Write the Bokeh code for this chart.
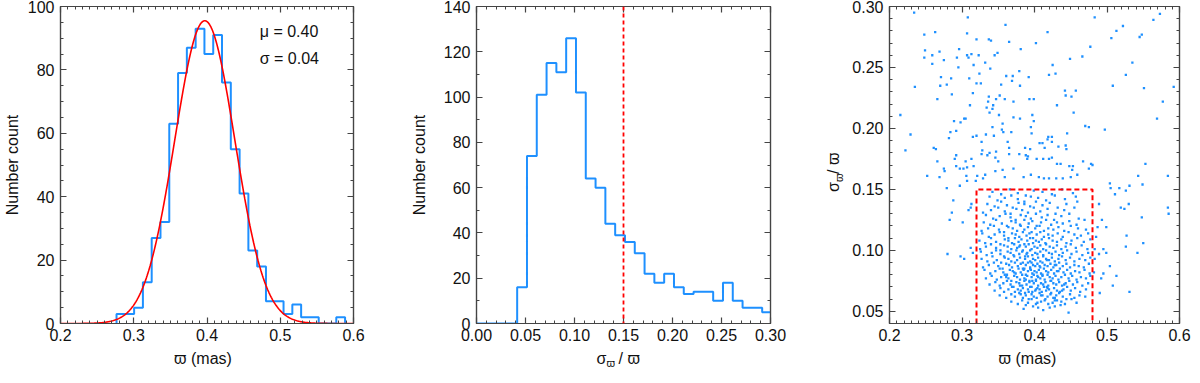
import numpy as np
from bokeh.plotting import figure
from bokeh.layouts import row, column
from bokeh.models import (Range1d, FixedTicker, LinearAxis, PrintfTickFormatter, Label, Span,
                          CustomLabelingPolicy)
from bokeh.core.properties import value
from bokeh.embed import file_html
from bokeh.resources import INLINE

# ---------------- data ----------------
# Panel 1: parallax histogram
plx_edges = [0.2765, 0.2885, 0.3005, 0.3125, 0.3245, 0.3365, 0.3485, 0.3605, 0.3725,
             0.3845, 0.3965, 0.4085, 0.4205, 0.4325, 0.4445, 0.4565, 0.4685, 0.4805,
             0.4925, 0.5045, 0.5165, 0.5285, 0.5405, 0.5525, 0.5645, 0.5765, 0.5885]
plx_counts = [3, 3, 5, 13, 27, 32, 63, 79, 87, 93, 85, 91, 76, 55, 41, 23, 18, 7, 7, 3,
              6, 2, 2, 0, 0, 2]
fit_mu = 0.397
fit_sigma = 0.041
fit_peak = 95.5
fit_text = ["μ = 0.40", "σ = 0.04"]

# Panel 2: relative parallax error histogram
ratio_edges = [0.0415, 0.0515, 0.0615, 0.0715, 0.0815, 0.0915, 0.1015, 0.1115, 0.1215,
               0.1315, 0.1415, 0.1515, 0.1615, 0.1715, 0.1815, 0.1915, 0.2015, 0.2115,
               0.2215, 0.2315, 0.2415, 0.2515, 0.2615, 0.2715, 0.2815, 0.2915, 0.3015]
ratio_counts = [16, 74, 101, 115, 111, 126, 102, 64, 60, 44, 39, 36, 31, 22, 18, 22, 16,
                13, 14, 14, 10, 18, 10, 7, 7, 5]
ratio_cut = 0.15
plx_cut = [0.32, 0.48]

# Panel 3: scatter, dense core (inside the selection box)
core_plx = (
    [0.385, 0.398, 0.412, 0.421, 0.436, 0.405, 0.428, 0.447]
    + [0.368, 0.377, 0.383, 0.391, 0.396, 0.402, 0.409, 0.414, 0.419, 0.425, 0.431, 0.437, 0.442, 0.451, 0.458, 0.388, 0.404, 0.428]
    + [0.352, 0.361, 0.368, 0.373, 0.379, 0.384, 0.388, 0.392, 0.396, 0.399, 0.403, 0.407, 0.411, 0.415, 0.418, 0.422, 0.426, 0.430, 0.434, 0.439, 0.444, 0.449, 0.455, 0.462, 0.470, 0.381, 0.409, 0.428]
    + [0.345, 0.353, 0.358, 0.364, 0.369, 0.373, 0.377, 0.381, 0.384, 0.387, 0.391, 0.394, 0.397, 0.401, 0.404, 0.407, 0.410, 0.413, 0.416, 0.420, 0.423, 0.427, 0.431, 0.435, 0.440, 0.445, 0.450, 0.456, 0.463, 0.471, 0.392, 0.418, 0.402, 0.438]
    + [0.338, 0.346, 0.352, 0.357, 0.362, 0.367, 0.371, 0.375, 0.379, 0.383, 0.386, 0.389, 0.393, 0.396, 0.399, 0.402, 0.405, 0.409, 0.412, 0.415, 0.419, 0.422, 0.426, 0.430, 0.434, 0.438, 0.443, 0.448, 0.453, 0.459, 0.466, 0.474, 0.380, 0.397, 0.417, 0.441]
    + [0.333, 0.341, 0.348, 0.354, 0.359, 0.364, 0.368, 0.372, 0.376, 0.380, 0.383, 0.386, 0.390, 0.393, 0.396, 0.399, 0.402, 0.405, 0.408, 0.411, 0.414, 0.418, 0.421, 0.425, 0.429, 0.433, 0.437, 0.442, 0.447, 0.452, 0.458, 0.464, 0.471, 0.477, 0.388, 0.404, 0.423, 0.361]
    + [0.331, 0.339, 0.346, 0.352, 0.357, 0.362, 0.366, 0.370, 0.374, 0.378, 0.381, 0.385, 0.388, 0.391, 0.394, 0.397, 0.400, 0.403, 0.406, 0.409, 0.413, 0.416, 0.419, 0.423, 0.427, 0.431, 0.435, 0.440, 0.445, 0.450, 0.456, 0.462, 0.469, 0.476, 0.395, 0.411, 0.433, 0.372]
    + [0.329, 0.337, 0.344, 0.350, 0.356, 0.361, 0.365, 0.369, 0.373, 0.377, 0.381, 0.384, 0.388, 0.391, 0.394, 0.398, 0.401, 0.404, 0.408, 0.411, 0.414, 0.418, 0.422, 0.426, 0.430, 0.434, 0.439, 0.444, 0.449, 0.455, 0.461, 0.468, 0.475, 0.386, 0.407, 0.428]
    + [0.327, 0.335, 0.342, 0.348, 0.354, 0.359, 0.364, 0.368, 0.372, 0.376, 0.380, 0.384, 0.387, 0.391, 0.394, 0.398, 0.401, 0.405, 0.408, 0.412, 0.416, 0.420, 0.424, 0.428, 0.433, 0.438, 0.443, 0.449, 0.455, 0.462, 0.470, 0.477, 0.396, 0.417]
    + [0.326, 0.334, 0.341, 0.347, 0.353, 0.358, 0.363, 0.367, 0.371, 0.375, 0.379, 0.383, 0.387, 0.390, 0.394, 0.397, 0.401, 0.404, 0.408, 0.412, 0.416, 0.420, 0.424, 0.429, 0.434, 0.439, 0.445, 0.451, 0.458, 0.466, 0.474, 0.389]
    + [0.325, 0.333, 0.340, 0.347, 0.353, 0.358, 0.363, 0.368, 0.372, 0.376, 0.380, 0.384, 0.388, 0.392, 0.396, 0.400, 0.404, 0.408, 0.412, 0.416, 0.421, 0.426, 0.431, 0.437, 0.443, 0.450, 0.457, 0.465, 0.473, 0.379]
    + [0.324, 0.332, 0.340, 0.347, 0.353, 0.359, 0.364, 0.369, 0.373, 0.378, 0.382, 0.386, 0.390, 0.394, 0.398, 0.402, 0.406, 0.410, 0.415, 0.420, 0.425, 0.431, 0.437, 0.444, 0.451, 0.459, 0.468, 0.477]
    + [0.328, 0.337, 0.345, 0.352, 0.358, 0.364, 0.369, 0.374, 0.379, 0.384, 0.389, 0.393, 0.398, 0.403, 0.408, 0.413, 0.419, 0.425, 0.432, 0.439, 0.447, 0.455, 0.464, 0.474]
    + [0.327, 0.336, 0.344, 0.351, 0.358, 0.364, 0.370, 0.376, 0.381, 0.386, 0.391, 0.396, 0.401, 0.407, 0.413, 0.419, 0.426, 0.433, 0.441, 0.450, 0.460, 0.471]
    + [0.330, 0.339, 0.347, 0.355, 0.362, 0.368, 0.374, 0.380, 0.386, 0.392, 0.397, 0.403, 0.409, 0.416, 0.423, 0.431, 0.439, 0.448, 0.458, 0.469]
    + [0.333, 0.343, 0.352, 0.360, 0.367, 0.374, 0.381, 0.388, 0.395, 0.402, 0.410, 0.418, 0.427, 0.437, 0.448, 0.461]
    + [0.329, 0.340, 0.350, 0.359, 0.367, 0.375, 0.383, 0.391, 0.399, 0.408, 0.418, 0.429, 0.441, 0.455]
    + [0.335, 0.345, 0.354, 0.362, 0.370, 0.378, 0.386, 0.394, 0.402, 0.411, 0.421, 0.432, 0.444, 0.459]
    + [0.338, 0.349, 0.359, 0.368, 0.377, 0.386, 0.395, 0.405, 0.416, 0.428, 0.442, 0.457]
    + [0.342, 0.354, 0.366, 0.377, 0.388, 0.399, 0.411, 0.424, 0.438, 0.453]
)
core_ratio = (
    [0.052, 0.054, 0.051, 0.053, 0.055, 0.053, 0.054, 0.049]
    + [0.058, 0.056, 0.059, 0.057, 0.060, 0.056, 0.058, 0.059, 0.056, 0.057, 0.059, 0.058, 0.056, 0.060, 0.057, 0.055, 0.057, 0.059]
    + [0.063, 0.061, 0.064, 0.062, 0.065, 0.061, 0.063, 0.060, 0.064, 0.062, 0.061, 0.065, 0.063, 0.060, 0.062, 0.064, 0.061, 0.063, 0.065, 0.062, 0.060, 0.064, 0.061, 0.063, 0.062, 0.064, 0.063, 0.061]
    + [0.067, 0.069, 0.066, 0.068, 0.070, 0.066, 0.068, 0.067, 0.069, 0.065, 0.068, 0.070, 0.066, 0.067, 0.069, 0.068, 0.066, 0.070, 0.067, 0.068, 0.065, 0.069, 0.067, 0.066, 0.068, 0.070, 0.067, 0.069, 0.066, 0.068, 0.066, 0.069, 0.068, 0.067]
    + [0.072, 0.074, 0.071, 0.073, 0.075, 0.072, 0.070, 0.074, 0.073, 0.071, 0.075, 0.072, 0.074, 0.070, 0.073, 0.075, 0.071, 0.073, 0.072, 0.074, 0.071, 0.075, 0.073, 0.072, 0.074, 0.071, 0.073, 0.075, 0.072, 0.074, 0.071, 0.073, 0.071, 0.075, 0.070, 0.072]
    + [0.077, 0.079, 0.076, 0.078, 0.080, 0.077, 0.075, 0.079, 0.078, 0.076, 0.080, 0.077, 0.079, 0.075, 0.078, 0.080, 0.076, 0.078, 0.077, 0.079, 0.076, 0.080, 0.078, 0.077, 0.079, 0.076, 0.078, 0.080, 0.077, 0.079, 0.076, 0.078, 0.077, 0.079, 0.076, 0.079, 0.075, 0.078]
    + [0.084, 0.081, 0.083, 0.085, 0.082, 0.080, 0.084, 0.083, 0.081, 0.085, 0.082, 0.084, 0.080, 0.083, 0.085, 0.081, 0.083, 0.082, 0.084, 0.081, 0.085, 0.083, 0.082, 0.084, 0.081, 0.083, 0.085, 0.082, 0.084, 0.081, 0.083, 0.082, 0.084, 0.081, 0.084, 0.080, 0.083, 0.082]
    + [0.086, 0.088, 0.090, 0.087, 0.085, 0.089, 0.088, 0.086, 0.090, 0.087, 0.089, 0.085, 0.088, 0.090, 0.086, 0.088, 0.087, 0.089, 0.086, 0.090, 0.088, 0.087, 0.089, 0.086, 0.088, 0.090, 0.087, 0.089, 0.086, 0.088, 0.087, 0.086, 0.089, 0.085, 0.087, 0.088]
    + [0.093, 0.091, 0.095, 0.092, 0.090, 0.094, 0.093, 0.091, 0.095, 0.092, 0.094, 0.090, 0.093, 0.095, 0.091, 0.093, 0.092, 0.094, 0.091, 0.095, 0.093, 0.092, 0.094, 0.091, 0.093, 0.095, 0.092, 0.094, 0.091, 0.093, 0.092, 0.094, 0.090, 0.092]
    + [0.099, 0.096, 0.098, 0.100, 0.097, 0.095, 0.099, 0.098, 0.096, 0.100, 0.097, 0.099, 0.095, 0.098, 0.100, 0.096, 0.098, 0.097, 0.099, 0.096, 0.100, 0.098, 0.097, 0.099, 0.096, 0.098, 0.100, 0.097, 0.099, 0.096, 0.098, 0.097]
    + [0.101, 0.103, 0.105, 0.102, 0.100, 0.104, 0.103, 0.101, 0.105, 0.102, 0.104, 0.100, 0.103, 0.105, 0.101, 0.103, 0.102, 0.104, 0.101, 0.105, 0.103, 0.102, 0.104, 0.101, 0.103, 0.105, 0.102, 0.104, 0.101, 0.103]
    + [0.108, 0.106, 0.110, 0.107, 0.105, 0.109, 0.108, 0.106, 0.110, 0.107, 0.109, 0.105, 0.108, 0.110, 0.106, 0.108, 0.107, 0.109, 0.106, 0.110, 0.108, 0.107, 0.109, 0.106, 0.108, 0.110, 0.107, 0.109]
    + [0.114, 0.111, 0.113, 0.115, 0.112, 0.110, 0.114, 0.113, 0.111, 0.115, 0.112, 0.114, 0.110, 0.113, 0.115, 0.111, 0.113, 0.112, 0.114, 0.111, 0.115, 0.113, 0.112, 0.114]
    + [0.116, 0.118, 0.120, 0.117, 0.115, 0.119, 0.118, 0.116, 0.120, 0.117, 0.119, 0.115, 0.118, 0.120, 0.116, 0.118, 0.117, 0.119, 0.116, 0.120, 0.118, 0.117]
    + [0.123, 0.121, 0.125, 0.122, 0.120, 0.124, 0.123, 0.121, 0.125, 0.122, 0.124, 0.120, 0.123, 0.125, 0.121, 0.123, 0.122, 0.124, 0.121, 0.125]
    + [0.129, 0.126, 0.128, 0.130, 0.127, 0.125, 0.129, 0.128, 0.126, 0.130, 0.127, 0.129, 0.125, 0.128, 0.130, 0.126]
    + [0.131, 0.133, 0.135, 0.132, 0.130, 0.134, 0.133, 0.131, 0.135, 0.132, 0.134, 0.130, 0.133, 0.135]
    + [0.138, 0.136, 0.140, 0.137, 0.135, 0.139, 0.138, 0.136, 0.140, 0.137, 0.139, 0.135, 0.138, 0.140]
    + [0.144, 0.141, 0.143, 0.145, 0.142, 0.140, 0.144, 0.143, 0.141, 0.145, 0.142, 0.144]
    + [0.148, 0.146, 0.150, 0.147, 0.145, 0.149, 0.148, 0.146, 0.150, 0.147]
)

# Panel 3: sparse points (outside the dense core)
halo_pts = [
    (0.234, 0.295), (0.308, 0.291), (0.483, 0.291), (0.573, 0.294), (0.564, 0.289),
    (0.360, 0.285), (0.522, 0.284), (0.513, 0.280), (0.248, 0.277), (0.263, 0.279), (0.307, 0.278), (0.418, 0.279),
    (0.548, 0.277), (0.545, 0.275), (0.506, 0.274), (0.337, 0.273), (0.340, 0.272), (0.320, 0.273), (0.365, 0.271),
    (0.402, 0.270), (0.477, 0.267), (0.296, 0.265), (0.249, 0.264), (0.381, 0.265),
    (0.248, 0.258), (0.259, 0.260), (0.269, 0.263), (0.275, 0.256), (0.293, 0.258), (0.307, 0.260), (0.313, 0.261),
    (0.323, 0.260), (0.309, 0.258), (0.345, 0.260), (0.349, 0.262), (0.466, 0.259), (0.449, 0.257), (0.259, 0.253),
    (0.332, 0.254), (0.425, 0.252), (0.535, 0.254),
    (0.295, 0.250), (0.316, 0.252), (0.324, 0.245), (0.339, 0.249), (0.370, 0.243), (0.361, 0.243), (0.379, 0.247),
    (0.392, 0.242), (0.271, 0.242), (0.285, 0.241), (0.310, 0.241), (0.429, 0.245), (0.420, 0.244), (0.526, 0.244),
    (0.326, 0.237),
    (0.279, 0.236), (0.270, 0.235), (0.320, 0.237), (0.354, 0.236), (0.369, 0.239), (0.380, 0.235), (0.508, 0.235),
    (0.551, 0.233), (0.592, 0.234), (0.235, 0.234), (0.286, 0.228), (0.315, 0.229), (0.442, 0.231), (0.457, 0.231),
    (0.443, 0.227), (0.451, 0.226), (0.352, 0.227), (0.337, 0.226),
    (0.266, 0.224), (0.336, 0.222), (0.343, 0.219), (0.347, 0.224), (0.342, 0.216), (0.359, 0.224), (0.371, 0.222),
    (0.393, 0.224), (0.399, 0.224), (0.431, 0.219), (0.454, 0.213), (0.311, 0.219), (0.577, 0.222), (0.334, 0.217),
    (0.338, 0.213),
    (0.303, 0.208), (0.305, 0.208), (0.289, 0.206), (0.351, 0.211), (0.397, 0.211), (0.371, 0.209), (0.380, 0.208),
    (0.399, 0.206), (0.395, 0.201), (0.356, 0.204), (0.342, 0.201), (0.355, 0.199), (0.470, 0.202), (0.475, 0.201),
    (0.497, 0.199), (0.569, 0.208), (0.215, 0.211), (0.298, 0.205),
    (0.357, 0.197), (0.368, 0.197), (0.344, 0.194), (0.363, 0.189), (0.327, 0.189), (0.292, 0.198), (0.284, 0.197),
    (0.282, 0.192), (0.315, 0.193), (0.320, 0.194), (0.333, 0.195), (0.445, 0.196), (0.419, 0.193), (0.424, 0.193),
    (0.424, 0.189), (0.407, 0.188), (0.411, 0.188), (0.418, 0.191), (0.396, 0.196), (0.229, 0.195),
    (0.433, 0.185), (0.443, 0.186), (0.444, 0.183), (0.414, 0.184), (0.394, 0.183), (0.222, 0.182), (0.261, 0.184),
    (0.264, 0.183), (0.266, 0.173), (0.292, 0.178), (0.290, 0.175), (0.313, 0.175), (0.305, 0.173), (0.327, 0.179),
    (0.328, 0.182), (0.338, 0.180), (0.335, 0.178), (0.346, 0.176), (0.350, 0.173), (0.347, 0.181), (0.365, 0.184),
    (0.365, 0.179), (0.379, 0.179), (0.387, 0.184), (0.388, 0.178), (0.391, 0.177), (0.390, 0.175), (0.403, 0.175),
    (0.412, 0.175), (0.420, 0.175), (0.424, 0.176), (0.467, 0.173), (0.553, 0.171), (0.543, 0.161),
    (0.252, 0.161), (0.269, 0.160), (0.275, 0.167), (0.276, 0.165), (0.292, 0.169), (0.297, 0.167), (0.302, 0.167),
    (0.307, 0.168), (0.316, 0.169), (0.431, 0.171), (0.436, 0.171), (0.448, 0.169), (0.452, 0.166), (0.453, 0.169),
    (0.478, 0.171), (0.480, 0.170), (0.306, 0.161), (0.321, 0.161), (0.329, 0.159), (0.332, 0.162), (0.346, 0.165),
    (0.356, 0.166), (0.359, 0.160), (0.371, 0.167), (0.385, 0.160), (0.395, 0.162), (0.406, 0.160), (0.413, 0.159),
    (0.420, 0.159), (0.430, 0.159), (0.439, 0.159), (0.450, 0.160), (0.459, 0.162), (0.475, 0.167), (0.504, 0.155),
    (0.505, 0.151), (0.549, 0.154), (0.584, 0.161),
    (0.279, 0.151), (0.288, 0.141), (0.283, 0.125), (0.286, 0.131), (0.301, 0.123), (0.309, 0.133), (0.313, 0.138),
    (0.312, 0.135), (0.280, 0.097), (0.298, 0.095), (0.303, 0.093), (0.312, 0.102), (0.315, 0.098), (0.307, 0.157),
    (0.297, 0.153), (0.319, 0.157),
    (0.511, 0.146), (0.517, 0.151), (0.526, 0.149), (0.531, 0.153), (0.530, 0.138), (0.519, 0.135), (0.524, 0.134),
    (0.548, 0.127), (0.584, 0.135), (0.585, 0.130), (0.489, 0.138), (0.493, 0.125), (0.499, 0.119), (0.495, 0.101),
    (0.489, 0.097), (0.483, 0.093), (0.482, 0.082), (0.492, 0.077), (0.495, 0.081), (0.483, 0.101), (0.527, 0.112),
    (0.526, 0.103), (0.542, 0.098), (0.550, 0.106), (0.531, 0.066), (0.504, 0.087), (0.513, 0.079), (0.508, 0.071),
    (0.490, 0.065), (0.499, 0.098), (0.485, 0.111), (0.487, 0.119),
]

# ticks
plx_ticks = [0.2, 0.3, 0.4, 0.5, 0.6]
count1_ticks = [0, 20, 40, 60, 80, 100]
ratio_ticks = [0.00, 0.05, 0.10, 0.15, 0.20, 0.25, 0.30]
count2_ticks = [0, 20, 40, 60, 80, 100, 120, 140]
rat_y_ticks = [0.05, 0.10, 0.15, 0.20, 0.25, 0.30]

# ---------------- style / layout ----------------
BLUE = "#1E90FF"
RED = "#FF0000"
AX = "#444444"
TXT = "#111111"
FONT = "Liberation Sans"
FRAME_H = 317
TOP_B = 6
BOT_B = 24
FIG_H = TOP_B + FRAME_H + BOT_B      # 347
STRIP_H = 20
TOTAL_W = 1184


def step_outline(edges, counts, start=None):
    xs, ys = [], []
    if start is not None:
        xs.append(start)
        ys.append(0)
    xs.append(edges[0])
    ys.append(0)
    for i, c in enumerate(counts):
        xs += [edges[i], edges[i + 1]]
        ys += [c, c]
    xs.append(edges[-1])
    ys.append(0)
    return xs, ys


def make_fig(frame_w, bl, br, xr, yr):
    p = figure(frame_width=frame_w, frame_height=FRAME_H,
               x_range=Range1d(*xr), y_range=Range1d(*yr),
               output_backend="svg", toolbar_location=None,
               min_border_left=bl, min_border_right=br,
               min_border_top=TOP_B, min_border_bottom=BOT_B)
    p.add_layout(LinearAxis(), "above")
    p.add_layout(LinearAxis(), "right")
    p.xgrid.visible = False
    p.ygrid.visible = False
    p.outline_line_color = AX
    p.outline_line_width = 1.2
    p.background_fill_color = "white"
    p.border_fill_color = "white"
    return p


def blank_fig(w, h):
    p = figure(frame_width=w, frame_height=h, x_range=Range1d(0, w), y_range=Range1d(0, h),
               output_backend="svg", toolbar_location=None,
               x_axis_type=None, y_axis_type=None,
               min_border_left=0, min_border_right=0, min_border_top=0, min_border_bottom=0)
    p.xgrid.visible = False
    p.ygrid.visible = False
    p.outline_line_color = None
    p.background_fill_color = "white"
    p.border_fill_color = "white"
    return p


def hide_labels():
    return CustomLabelingPolicy(code="for (const i of Array.from(indices)) { indices.unset(i) }\nreturn indices")


def style_axis(ax, ticks, minor, fmt, show):
    ax.ticker = FixedTicker(ticks=ticks, minor_ticks=minor)
    ax.formatter = PrintfTickFormatter(format=fmt)
    ax.major_tick_in = 6
    ax.major_tick_out = 0
    ax.minor_tick_in = 3
    ax.minor_tick_out = 0
    ax.major_tick_line_color = AX
    ax.minor_tick_line_color = AX
    ax.major_tick_line_width = 1.2
    ax.minor_tick_line_width = 1
    ax.axis_line_color = AX
    ax.axis_line_width = 1.2
    ax.axis_label_text_font = FONT
    ax.axis_label_text_font_size = "16px"
    ax.axis_label_text_font_style = "normal"
    ax.axis_label_text_color = TXT
    ax.major_label_text_font = FONT
    ax.major_label_text_color = TXT
    if show:
        ax.major_label_text_font_size = "16px"
        ax.major_label_standoff = 5
    else:
        ax.major_label_text_font_size = "0px"
        ax.major_label_standoff = 0
        ax.major_label_policy = hide_labels()


def style_all(p, xt, xm, xf, yt, ym, yf):
    style_axis(p.below[0], xt, xm, xf, True)
    style_axis(p.above[0], xt, xm, xf, False)
    style_axis(p.left[0], yt, ym, yf, True)
    style_axis(p.right[0], yt, ym, yf, False)
    p.left[0].major_label_standoff = 6


def put_text(p, x, y, text, size, align="left", angle=0.0):
    p.text(x=[x], y=[y], text=[text], text_font=value(FONT), text_font_size=value(size),
           text_color=TXT, text_align=align, text_baseline="middle", angle=angle)


plx_minor = [round(v, 3) for v in np.arange(0.20, 0.6001, 0.01)]
ratio_minor = [round(v, 3) for v in np.arange(0.0, 0.3001, 0.01)]
count1_minor = list(range(0, 101, 5))
count2_minor = list(range(0, 141, 10))
rat_y_minor = [round(v, 3) for v in np.arange(0.04, 0.3001, 0.01)]

# ---------------- panel 1 ----------------
P1_BL, P1_FW, P1_BR = 56, 293, 54
p1 = make_fig(P1_FW, P1_BL, P1_BR, (0.2, 0.6), (0, 100))
style_all(p1, plx_ticks, plx_minor, "%.1f", count1_ticks, count1_minor, "%d")
p1.left[0].axis_label = "Number count"
p1.left[0].axis_label_standoff = 4
hx, hy = step_outline(plx_edges, plx_counts)
p1.line(hx, hy, line_color=BLUE, line_width=2)
gx = np.linspace(0.2, 0.6, 400)
gy = fit_peak * np.exp(-0.5 * ((gx - fit_mu) / fit_sigma) ** 2)
p1.line(gx, gy, line_color=RED, line_width=1.6)
for i, t in enumerate(fit_text):
    p1.add_layout(Label(x=0.472, y=92 - 8.3 * i, text=t, text_font=FONT, text_font_size="16px",
                        text_color=TXT, text_baseline="middle", text_align="left"))

# ---------------- panel 2 ----------------
P2_BL, P2_FW, P2_BR = 66, 294, 49
p2 = make_fig(P2_FW, P2_BL, P2_BR, (0.0, 0.30), (0, 140))
style_all(p2, ratio_ticks, ratio_minor, "%.2f", count2_ticks, count2_minor, "%d")
p2.left[0].axis_label = "Number count"
p2.left[0].axis_label_standoff = 13
rx, ry = step_outline(ratio_edges, ratio_counts, start=0.0)
p2.line(rx, ry, line_color=BLUE, line_width=2)
p2.add_layout(Span(location=ratio_cut, dimension="height", line_color=RED, line_width=1.8,
                   line_dash="4 3"))

# ---------------- y-title strip for panel 3 ----------------
LAB_W = 30
lab = blank_fig(LAB_W, FIG_H)
mid_y = FIG_H - TOP_B - FRAME_H / 2.0
put_text(lab, 14, mid_y - 21, "σ", "16px", angle=np.pi / 2)
put_text(lab, 19, mid_y - 11, "ϖ", "11px", angle=np.pi / 2)
put_text(lab, 14, mid_y - 3, "/ ϖ", "16px", angle=np.pi / 2)

# ---------------- panel 3 ----------------
P3_BL, P3_FW, P3_BR = 40, 290, 12
p3 = make_fig(P3_FW, P3_BL, P3_BR, (0.2, 0.6), (0.04, 0.30))
style_all(p3, plx_ticks, plx_minor, "%.1f", rat_y_ticks, rat_y_minor, "%.2f")
core_pairs = list(zip(core_plx, core_ratio))
sx = [a for a, b in core_pairs] + [a for a, b in halo_pts]
sy = [b for a, b in core_pairs] + [b for a, b in halo_pts]
p3.scatter(sx, sy, marker="square", size=2.3, fill_color=BLUE, line_color=None)
ybot = p3.y_range.start
p3.line([plx_cut[0], plx_cut[0], plx_cut[1], plx_cut[1]], [ybot, ratio_cut, ratio_cut, ybot],
        line_color=RED, line_width=2, line_dash="5 3")

# ---------------- x-title strip ----------------
strip = blank_fig(TOTAL_W, STRIP_H)
w1 = P1_BL + P1_FW + P1_BR
w2 = P2_BL + P2_FW + P2_BR
c1 = P1_BL + P1_FW / 2.0
c2 = w1 + P2_BL + P2_FW / 2.0
c3 = w1 + w2 + LAB_W + P3_BL + P3_FW / 2.0
ty = STRIP_H - 11
put_text(strip, c1, ty, "ϖ (mas)", "16px", align="center")
put_text(strip, c2 - 20, ty, "σ", "16px")
put_text(strip, c2 - 10, ty - 4, "ϖ", "11px")
put_text(strip, c2 + 2, ty, "/ ϖ", "16px")
put_text(strip, c3, ty, "ϖ (mas)", "16px", align="center")

layout = column(row(p1, p2, lab, p3), strip)
open("out.html", "w").write(file_html(layout, INLINE))
